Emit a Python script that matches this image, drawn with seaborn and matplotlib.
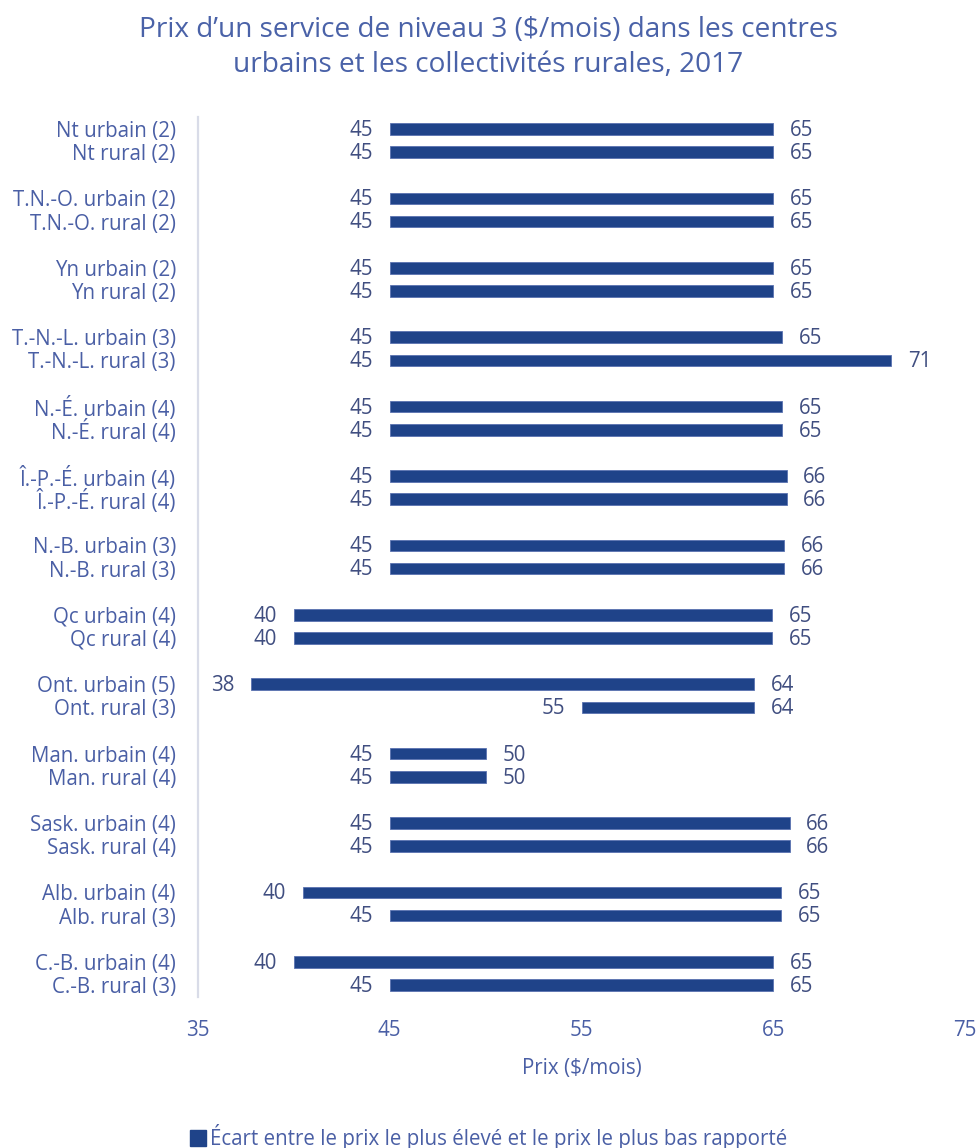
import matplotlib
matplotlib.use('Agg')
import matplotlib.pyplot as plt
from matplotlib.patches import Patch
import seaborn as sns
import pandas as pd

# categories, top to bottom
provinces = ['Nt', 'T.N.-O.', 'Yn', 'T.-N.-L.', 'N.-É.', 'Î.-P.-É.', 'N.-B.',
             'Qc', 'Ont.', 'Man.', 'Sask.', 'Alb.', 'C.-B.']
urban_n = [2, 2, 2, 3, 4, 4, 3, 4, 5, 4, 4, 4, 4]
rural_n = [2, 2, 2, 3, 4, 4, 3, 4, 3, 4, 4, 3, 3]

# lowest / highest reported price ($/month)
urban_low = [45, 45, 45, 45, 45, 45, 45, 40, 37.75, 45, 45, 40.45, 40]
urban_high = [65, 65, 65, 65.45, 65.45, 65.7, 65.55, 64.95, 64.0, 50, 65.85, 65.4, 65]
rural_low = [45, 45, 45, 45, 45, 45, 45, 40, 55, 45, 45, 45, 45]
rural_high = [65, 65, 65, 71.15, 65.45, 65.7, 65.55, 64.95, 64.0, 50, 65.85, 65.4, 65]

x_ticks = [35, 45, 55, 65, 75]

BAR = '#1f4389'
TXT = '#4a5fa5'
VAL = '#404e80'
FS = 14.8

rows = []
for i, p in enumerate(provinces):
    rows.append(dict(label=f'{p} urbain ({urban_n[i]})', low=urban_low[i], high=urban_high[i], pos=3 * i))
    rows.append(dict(label=f'{p} rural ({rural_n[i]})', low=rural_low[i], high=rural_high[i], pos=3 * i + 1))
df = pd.DataFrame(rows)

sns.set_theme(style='white')
plt.rcParams['font.family'] = ['Open Sans', 'DejaVu Sans']

fig = plt.figure(figsize=(9.77, 11.48), dpi=100)
ax = fig.add_axes([198 / 977, 1 - 996.5 / 1148, (965 - 198) / 977, (996.5 - 117.5) / 1148])

# floating bars: from lowest to highest price
ax.barh(df['pos'], df['high'] - df['low'], left=df['low'], height=0.5,
        color=BAR, edgecolor='#5a72b0', linewidth=0.6)

for _, r in df.iterrows():
    ax.annotate(f"{r['low']:.0f}", (r['low'], r['pos']), xytext=(-12, -1),
                textcoords='offset points', ha='right', va='center',
                fontsize=FS, color=VAL)
    ax.annotate(f"{r['high']:.0f}", (r['high'], r['pos']), xytext=(12, -1),
                textcoords='offset points', ha='left', va='center',
                fontsize=FS, color=VAL)

ax.set_xlim(x_ticks[0], x_ticks[-1])
ax.set_ylim(3 * len(provinces) - 1.5, -0.5)
ax.set_xticks(x_ticks)
ax.set_xticklabels([str(t) for t in x_ticks], fontsize=FS, color=TXT)
ax.set_yticks(df['pos'])
ax.set_yticklabels(df['label'], fontsize=FS, color=TXT)
ax.tick_params(axis='x', length=0, pad=17)
ax.tick_params(axis='y', length=0, pad=16)

for s in ['top', 'right', 'bottom']:
    ax.spines[s].set_visible(False)
ax.spines['left'].set_color('#d9dce8')
ax.spines['left'].set_linewidth(1.6)

ax.set_xlabel('Prix ($/mois)', fontsize=FS, color=TXT, labelpad=12)
ax.set_ylabel('')

fig.text(0.5, 1 - 30 / 1148, 'Prix d\u2019un service de niveau 3 ($/mois) dans les centres',
         ha='center', va='center', fontsize=20.2, color='#4a62a8')
fig.text(0.5, 1 - 65 / 1148, 'urbains et les collectivités rurales, 2017',
         ha='center', va='center', fontsize=20.2, color='#4a62a8')

handle = Patch(facecolor=BAR, edgecolor=BAR)
fig.legend([handle], ['Écart entre le prix le plus élevé et le prix le plus bas rapporté'],
           loc='center', bbox_to_anchor=(0.5, 1 - 1137 / 1148), frameon=False,
           fontsize=FS, labelcolor=TXT, handlelength=0.8, handleheight=0.8,
           handletextpad=0.2)

fig.savefig('out.png', dpi=100)
